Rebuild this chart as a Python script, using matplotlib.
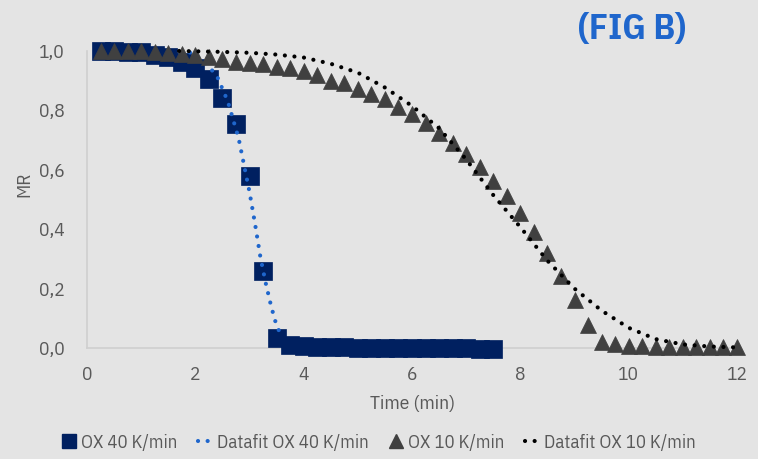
import matplotlib
matplotlib.use('Agg')
import matplotlib.pyplot as plt
from matplotlib.lines import Line2D

# measured data, OX 40 K/min (every 0.25 min)
t40 = [0.25, 0.5, 0.75, 1.0, 1.25, 1.5, 1.75, 2.0, 2.25, 2.5, 2.75, 3.0, 3.25, 3.5,
       3.75, 4.0, 4.25, 4.5, 4.75, 5.0, 5.25, 5.5, 5.75, 6.0, 6.25, 6.5, 6.75, 7.0,
       7.25, 7.5]
mr40 = [1.0, 0.999, 0.998, 0.996, 0.987, 0.981, 0.964, 0.942, 0.905, 0.842, 0.754,
        0.579, 0.259, 0.034, 0.01, 0.007, 0.003, 0.002, 0.002, 0.001, 0.001, 0.001,
        0.0, 0.0, 0.0, 0.0, 0.0, 0.0, -0.002, -0.002]

# measured data, OX 10 K/min
t10 = [0.25, 0.5, 0.75, 1.0, 1.25, 1.5, 1.75, 2.0, 2.25, 2.5, 2.75, 3.0, 3.25, 3.5,
       3.75, 4.0, 4.25, 4.5, 4.75, 5.0, 5.25, 5.5, 5.75, 6.0, 6.25, 6.5, 6.75, 7.0,
       7.25, 7.5, 7.75, 8.0, 8.25, 8.5, 8.75, 9.0, 9.25, 9.5, 9.75, 10.0, 10.25, 10.5,
       10.75, 11.0, 11.25, 11.5, 11.75, 12.0]
mr10 = [1.0, 1.0, 1.0, 0.999, 0.997, 0.994, 0.99, 0.987, 0.979, 0.972, 0.964, 0.961,
        0.956, 0.947, 0.942, 0.934, 0.919, 0.90, 0.891, 0.871, 0.855, 0.837, 0.81,
        0.788, 0.757, 0.725, 0.691, 0.653, 0.61, 0.563, 0.512, 0.456, 0.392, 0.321,
        0.242, 0.162, 0.077, 0.021, 0.012, 0.008, 0.006, 0.005, 0.004, 0.003, 0.003,
        0.002, 0.002, 0.002]

# fitted curves
tfit40 = [1.9, 2.0, 2.2, 2.4, 2.6, 2.8, 3.0, 3.1, 3.2, 3.3, 3.4, 3.5, 3.58]
fit40 = [0.995, 0.985, 0.958, 0.915, 0.83, 0.705, 0.525, 0.42, 0.307, 0.218, 0.14,
         0.075, 0.045]

tfit10 = [1.7, 2.0, 2.5, 3.0, 3.5, 4.0, 4.5, 5.0, 5.5, 6.0, 6.5, 7.0,
          7.5, 8.0, 8.5, 9.0, 9.5, 10.0, 10.5, 11.0, 11.5, 12.0]
fit10 = [1.0, 0.999, 0.997, 0.994, 0.988, 0.978, 0.957, 0.927,
         0.877, 0.815, 0.74, 0.635, 0.515, 0.407, 0.294, 0.2, 0.126, 0.068, 0.03,
         0.012, 0.005, 0.002]

xticks = [0, 2, 4, 6, 8, 10, 12]
yticks = [0.0, 0.2, 0.4, 0.6, 0.8, 1.0]
ytick_labels = ['0,0', '0,2', '0,4', '0,6', '0,8', '1,0']

plt.rcParams['font.family'] = ['IBM Plex Sans Condensed', 'DejaVu Sans']
bg = '#e4e4e4'
txt = '#595959'
navy = '#002060'
grey = '#404040'
blue = '#1f66cc'

fig = plt.figure(figsize=(7.58, 4.59), dpi=100, facecolor=bg)
ax = fig.add_axes([0.1148, 0.2418, 0.8575, 0.6471], facecolor=bg)

dots = (0, (0.01, 2.3))
ax.plot(t40, mr40, linestyle='none', marker='s', ms=12.5, color=navy,
        markeredgecolor=navy, markeredgewidth=0.5, clip_on=False, zorder=3)
ax.plot(tfit40, fit40, color=blue, lw=3.0, linestyle=dots, dash_capstyle='round',
        clip_on=False, zorder=4)
ax.plot(t10, mr10, linestyle='none', marker='^', ms=11.5, color=grey,
        markeredgecolor=grey, markeredgewidth=0.5, clip_on=False, zorder=5)
ax.plot(tfit10, fit10, color='black', lw=3.0, linestyle=dots, dash_capstyle='round',
        clip_on=False, zorder=6)

ax.set_xlim(0, 12)
ax.set_ylim(0, 1.0)
ax.set_xticks(xticks)
ax.set_yticks(yticks)
ax.set_yticklabels(ytick_labels)
ax.tick_params(length=0, labelsize=14, colors=txt)
ax.tick_params(axis='x', pad=13)
ax.tick_params(axis='y', pad=16)
for s in ['top', 'right']:
    ax.spines[s].set_visible(False)
for s in ['left', 'bottom']:
    ax.spines[s].set_color('#cfcfcf')
    ax.spines[s].set_linewidth(1.2)

ax.set_xlabel('Time (min)', fontsize=14, color=txt, labelpad=8)
ax.set_ylabel('MR', fontsize=14, color=txt)
ax.yaxis.set_label_coords(-0.082, 0.55)

fig.text(0.834, 0.935, '(FIG B)', fontsize=26, fontweight='bold', color=blue,
         ha='center', va='center')

handles = [
    Line2D([], [], linestyle='none', marker='s', ms=10.5, color=navy),
    Line2D([], [], color=blue, lw=3.0, linestyle=dots, dash_capstyle='round'),
    Line2D([], [], linestyle='none', marker='^', ms=10.5, color=grey),
    Line2D([], [], color='black', lw=3.0, linestyle=dots, dash_capstyle='round'),
]
labels = ['OX 40 K/min', 'Datafit OX 40 K/min', 'OX 10 K/min', 'Datafit OX 10 K/min']
fig.legend(handles, labels, loc='center', bbox_to_anchor=(0.5, 0.035), ncol=4,
           frameon=False, fontsize=13.5, labelcolor=txt, handlelength=0.75,
           handletextpad=0.25, columnspacing=1.1, borderaxespad=0)

fig.savefig('out.png', dpi=100, facecolor=bg)
